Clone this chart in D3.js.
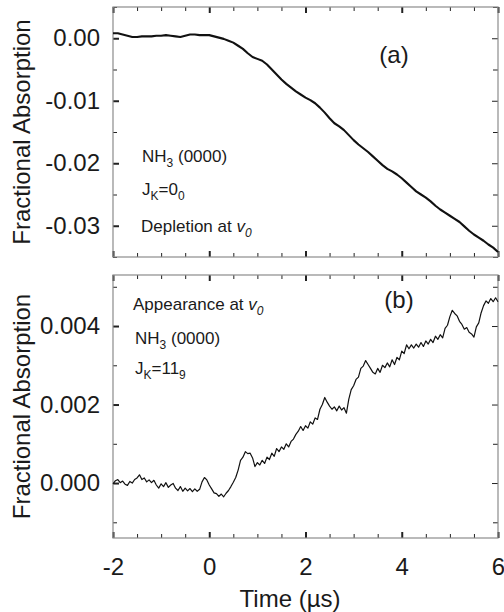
<!DOCTYPE html>
<html>
<head>
<meta charset="utf-8">
<script src="https://cdn.jsdelivr.net/npm/d3@7"></script>
<style>
  body { margin: 0; background: #fff; }
  svg { display: block; font-family: "Liberation Sans", Arial, sans-serif; }
  .frame { fill: none; stroke: #8c8c8c; stroke-width: 1.2; }
  .axis path.domain { display: none; }
  .axis .tick line { stroke: #222; }
  .major .tick line { stroke-width: 2; }
  .minor .tick line { stroke-width: 1; }
  .axis .tick text { font-size: 24px; fill: #1a1a1a; }
  .note { font-size: 17px; fill: #1a1a1a; }
  .panelTag { font-size: 24px; fill: #1a1a1a; }
  .axisTitle { font-size: 24px; fill: #1a1a1a; }
</style>
</head>
<body>
<svg id="chart" width="504" height="612"></svg>
<script>
// shared time axis (µs)
const timeDomain = [-2, 6];
const timeMajor = [-2, 0, 2, 4, 6];
const timeMinor = [-1.5, -1, -0.5, 0.5, 1, 1.5, 2.5, 3, 3.5, 4.5, 5, 5.5];
const timeLabels = ['-2', '0', '2', '4', '6'];

// panel (a): depletion of NH3 J_K=0_0
const timeA = [-2,-1.9,-1.8,-1.7,-1.6,-1.5,-1.4,-1.3,-1.2,-1.1,-1,-0.9,-0.8,-0.7,-0.6,-0.5,-0.4,-0.3,-0.2,-0.1,
  0,0.1,0.2,0.3,0.4,0.5,0.6,0.7,0.8,0.9,1,1.1,1.2,1.3,1.4,1.5,1.6,1.7,1.8,1.9,
  2,2.1,2.2,2.3,2.4,2.5,2.6,2.7,2.8,2.9,3,3.1,3.2,3.3,3.4,3.5,3.6,3.7,3.8,3.9,
  4,4.1,4.2,4.3,4.4,4.5,4.6,4.7,4.8,4.9,5,5.1,5.2,5.3,5.4,5.5,5.6,5.7,5.8,5.9,6];
const absorbA = [0.0008,0.0008,0.0006,0.0004,0.0002,0.0002,0.0003,0.0003,0.0003,0.0004,
  0.0004,0.0005,0.0004,0.0003,0.0002,0.0004,0.0006,0.0006,0.0005,0.0005,
  0.0005,0.0003,0.0001,-0.0001,-0.0004,-0.0007,-0.0012,-0.0017,-0.0024,-0.0030,
  -0.0033,-0.0036,-0.0042,-0.0050,-0.0058,-0.0066,-0.0073,-0.0079,-0.0085,-0.0090,
  -0.0095,-0.0099,-0.0104,-0.0111,-0.0119,-0.0128,-0.0136,-0.0141,-0.0147,-0.0155,
  -0.0163,-0.0170,-0.0176,-0.0182,-0.0189,-0.0196,-0.0203,-0.0209,-0.0213,-0.0218,
  -0.0224,-0.0231,-0.0238,-0.0245,-0.0250,-0.0255,-0.0261,-0.0268,-0.0274,-0.0279,
  -0.0284,-0.0289,-0.0294,-0.0301,-0.0308,-0.0314,-0.0319,-0.0324,-0.0330,-0.0335,-0.0342];
const yDomainA = [-0.035, 0.005];
const yMajorA = [0, -0.01, -0.02, -0.03];
const yMinorA = [0.005, -0.005, -0.015, -0.025, -0.035];
const yLabelsA = ['0.00', '-0.01', '-0.02', '-0.03'];

// panel (b): appearance of NH3 J_K=11_9
const timeB = [-2,-1.95,-1.9,-1.85,-1.8,-1.75,-1.7,-1.65,-1.6,-1.55,-1.5,-1.45,-1.4,-1.35,-1.3,-1.25,-1.2,-1.15,-1.1,-1.05,
  -1,-0.95,-0.9,-0.85,-0.8,-0.75,-0.7,-0.65,-0.6,-0.55,-0.5,-0.45,-0.4,-0.35,-0.3,-0.25,-0.2,-0.15,-0.1,-0.05,
  0,0.05,0.1,0.15,0.2,0.25,0.3,0.35,0.4,0.45,0.5,0.55,0.6,0.65,0.7,0.75,0.8,0.85,0.9,0.95,
  1,1.05,1.1,1.15,1.2,1.25,1.3,1.35,1.4,1.45,1.5,1.55,1.6,1.65,1.7,1.75,1.8,1.85,1.9,1.95,
  2,2.05,2.1,2.15,2.2,2.25,2.3,2.35,2.4,2.45,2.5,2.55,2.6,2.65,2.7,2.75,2.8,2.85,2.9,2.95,
  3,3.05,3.1,3.15,3.2,3.25,3.3,3.35,3.4,3.45,3.5,3.55,3.6,3.65,3.7,3.75,3.8,3.85,3.9,3.95,
  4,4.05,4.1,4.15,4.2,4.25,4.3,4.35,4.4,4.45,4.5,4.55,4.6,4.65,4.7,4.75,4.8,4.85,4.9,4.95,
  5,5.05,5.1,5.15,5.2,5.25,5.3,5.35,5.4,5.45,5.5,5.55,5.6,5.65,5.7,5.75,5.8,5.85,5.9,5.95,6];
const absorbB = [-0.00002,0.00006,0.00009,0.00001,0.00005,-0.00003,-0.00006,0.00004,0.00000,0.00009,
  0.00013,0.00021,0.00009,0.00013,0.00003,0.00008,0.00001,0.00007,-0.00005,-0.00013,
  -0.00002,-0.00009,0.00001,-0.00011,-0.00005,-0.00001,-0.00013,-0.00019,-0.00009,-0.00021,
  -0.00013,-0.00020,-0.00014,-0.00022,-0.00015,-0.00021,-0.00016,0.00003,0.00014,0.00008,
  -0.00005,-0.00015,-0.00025,-0.00027,-0.00034,-0.00028,-0.00035,-0.00026,-0.00019,-0.00009,
  0.00002,0.00014,0.00033,0.00058,0.00066,0.00080,0.00075,0.00076,0.00064,0.00042,
  0.00052,0.00046,0.00058,0.00050,0.00066,0.00060,0.00076,0.00068,0.00088,0.00080,
  0.00092,0.00086,0.00100,0.00092,0.00106,0.00112,0.00124,0.00132,0.00144,0.00134,
  0.00146,0.00140,0.00156,0.00150,0.00166,0.00162,0.00188,0.00200,0.00218,0.00206,
  0.00196,0.00188,0.00194,0.00184,0.00196,0.00186,0.00192,0.00178,0.00214,0.00238,
  0.00248,0.00264,0.00270,0.00292,0.00298,0.00312,0.00302,0.00292,0.00282,0.00278,
  0.00292,0.00282,0.00300,0.00294,0.00306,0.00296,0.00314,0.00302,0.00320,0.00314,
  0.00336,0.00330,0.00352,0.00342,0.00352,0.00344,0.00354,0.00346,0.00358,0.00348,
  0.00362,0.00354,0.00366,0.00358,0.00374,0.00366,0.00378,0.00370,0.00394,0.00402,
  0.00424,0.00440,0.00432,0.00426,0.00412,0.00404,0.00392,0.00396,0.00384,0.00380,
  0.00372,0.00398,0.00408,0.00434,0.00452,0.00464,0.00458,0.00470,0.00462,0.00472,
  0.00462];
const yDomainB = [-0.0014, 0.0053];
const yMajorB = [0, 0.002, 0.004];
const yMinorB = [-0.001, 0.001, 0.003, 0.005];
const yLabelsB = ['0.000', '0.002', '0.004'];

const svg = d3.select('#chart');
const left = 113, right = 498;
const x = d3.scaleLinear().domain(timeDomain).range([left, right]);

function drawPanel(top, bottom, yDomain, yMajor, yMinor, yLabels, times, values, lineWidth, xLabelled) {
    const y = d3.scaleLinear().domain(yDomain).range([bottom, top]);
    const g = svg.append('g');

    // left axis, ticks inward
    g.append('g').attr('class', 'axis minor').attr('transform', `translate(${left},0)`)
        .call(d3.axisLeft(y).tickValues(yMinor).tickSize(-4).tickFormat(''));
    g.append('g').attr('class', 'axis major').attr('transform', `translate(${left},0)`)
        .call(d3.axisLeft(y).tickValues(yMajor).tickSize(-6).tickPadding(13)
            .tickFormat((d, i) => yLabels[i]));
    // right axis
    g.append('g').attr('class', 'axis minor').attr('transform', `translate(${right},0)`)
        .call(d3.axisRight(y).tickValues(yMinor).tickSize(-5).tickFormat(''));
    g.append('g').attr('class', 'axis minor').attr('transform', `translate(${right},0)`)
        .call(d3.axisRight(y).tickValues(yMajor).tickSize(-6).tickFormat(''));
    // top axis
    g.append('g').attr('class', 'axis minor').attr('transform', `translate(0,${top})`)
        .call(d3.axisTop(x).tickValues(timeMinor).tickSize(-4).tickFormat(''));
    g.append('g').attr('class', 'axis major').attr('transform', `translate(0,${top})`)
        .call(d3.axisTop(x).tickValues(timeMajor).tickSize(-6).tickFormat(''));
    // bottom axis
    g.append('g').attr('class', 'axis minor').attr('transform', `translate(0,${bottom})`)
        .call(d3.axisBottom(x).tickValues(timeMinor).tickSize(-4).tickFormat(''));
    g.append('g').attr('class', 'axis major').attr('transform', `translate(0,${bottom})`)
        .call(d3.axisBottom(x).tickValues(timeMajor).tickSize(-6).tickPadding(20)
            .tickFormat((d, i) => xLabelled ? timeLabels[i] : ''));

    g.append('rect').attr('class', 'frame')
        .attr('x', left).attr('y', top)
        .attr('width', right - left).attr('height', bottom - top);

    const line = d3.line()
        .x((d, i) => x(times[i]))
        .y(d => y(d));
    g.append('path')
        .datum(values)
        .attr('d', line)
        .attr('fill', 'none')
        .attr('stroke', '#111')
        .attr('stroke-width', lineWidth)
        .attr('stroke-linejoin', 'round');

    // y title
    svg.append('text').attr('class', 'axisTitle')
        .attr('transform', `translate(30,${(top + bottom) / 2}) rotate(-90)`)
        .attr('text-anchor', 'middle')
        .text('Fractional Absorption');
    return g;
}

const gA = drawPanel(7, 257, yDomainA, yMajorA, yMinorA, yLabelsA, timeA, absorbA, 2.1, false);
const gB = drawPanel(275, 538, yDomainB, yMajorB, yMinorB, yLabelsB, timeB, absorbB, 1.2, true);

// helper for text with subscripts: parts = [[text, isSub, italic]]
function note(xp, yp, parts) {
    const t = svg.append('text').attr('class', 'note').attr('x', xp).attr('y', yp);
    let shifted = false;
    parts.forEach(p => {
        const s = t.append('tspan').text(p[0]);
        if (p[1] && !shifted) { s.attr('dy', 5).attr('font-size', 12); shifted = true; }
        else if (p[1]) { s.attr('font-size', 12); }
        else if (shifted) { s.attr('dy', -5); shifted = false; }
        if (p[2]) s.attr('font-style', 'italic');
    });
}

note(142, 162, [['NH'], ['3', true], [' (0000)']]);
note(142, 195, [['J'], ['K', true], ['=0'], ['0', true]]);
note(141, 232, [['Depletion at '], ['v', false, true], ['0', true, true]]);

note(133, 310, [['Appearance at '], ['v', false, true], ['0', true, true]]);
note(135, 344, [['NH'], ['3', true], [' (0000)']]);
note(135, 374, [['J'], ['K', true], ['=11'], ['9', true]]);

svg.append('text').attr('class', 'panelTag').attr('x', 394).attr('y', 63)
    .attr('text-anchor', 'middle').text('(a)');
svg.append('text').attr('class', 'panelTag').attr('x', 399).attr('y', 308)
    .attr('text-anchor', 'middle').text('(b)');

svg.append('text').attr('class', 'axisTitle').attr('x', 290).attr('y', 607)
    .attr('text-anchor', 'middle').text('Time (µs)');
</script>
</body>
</html>
